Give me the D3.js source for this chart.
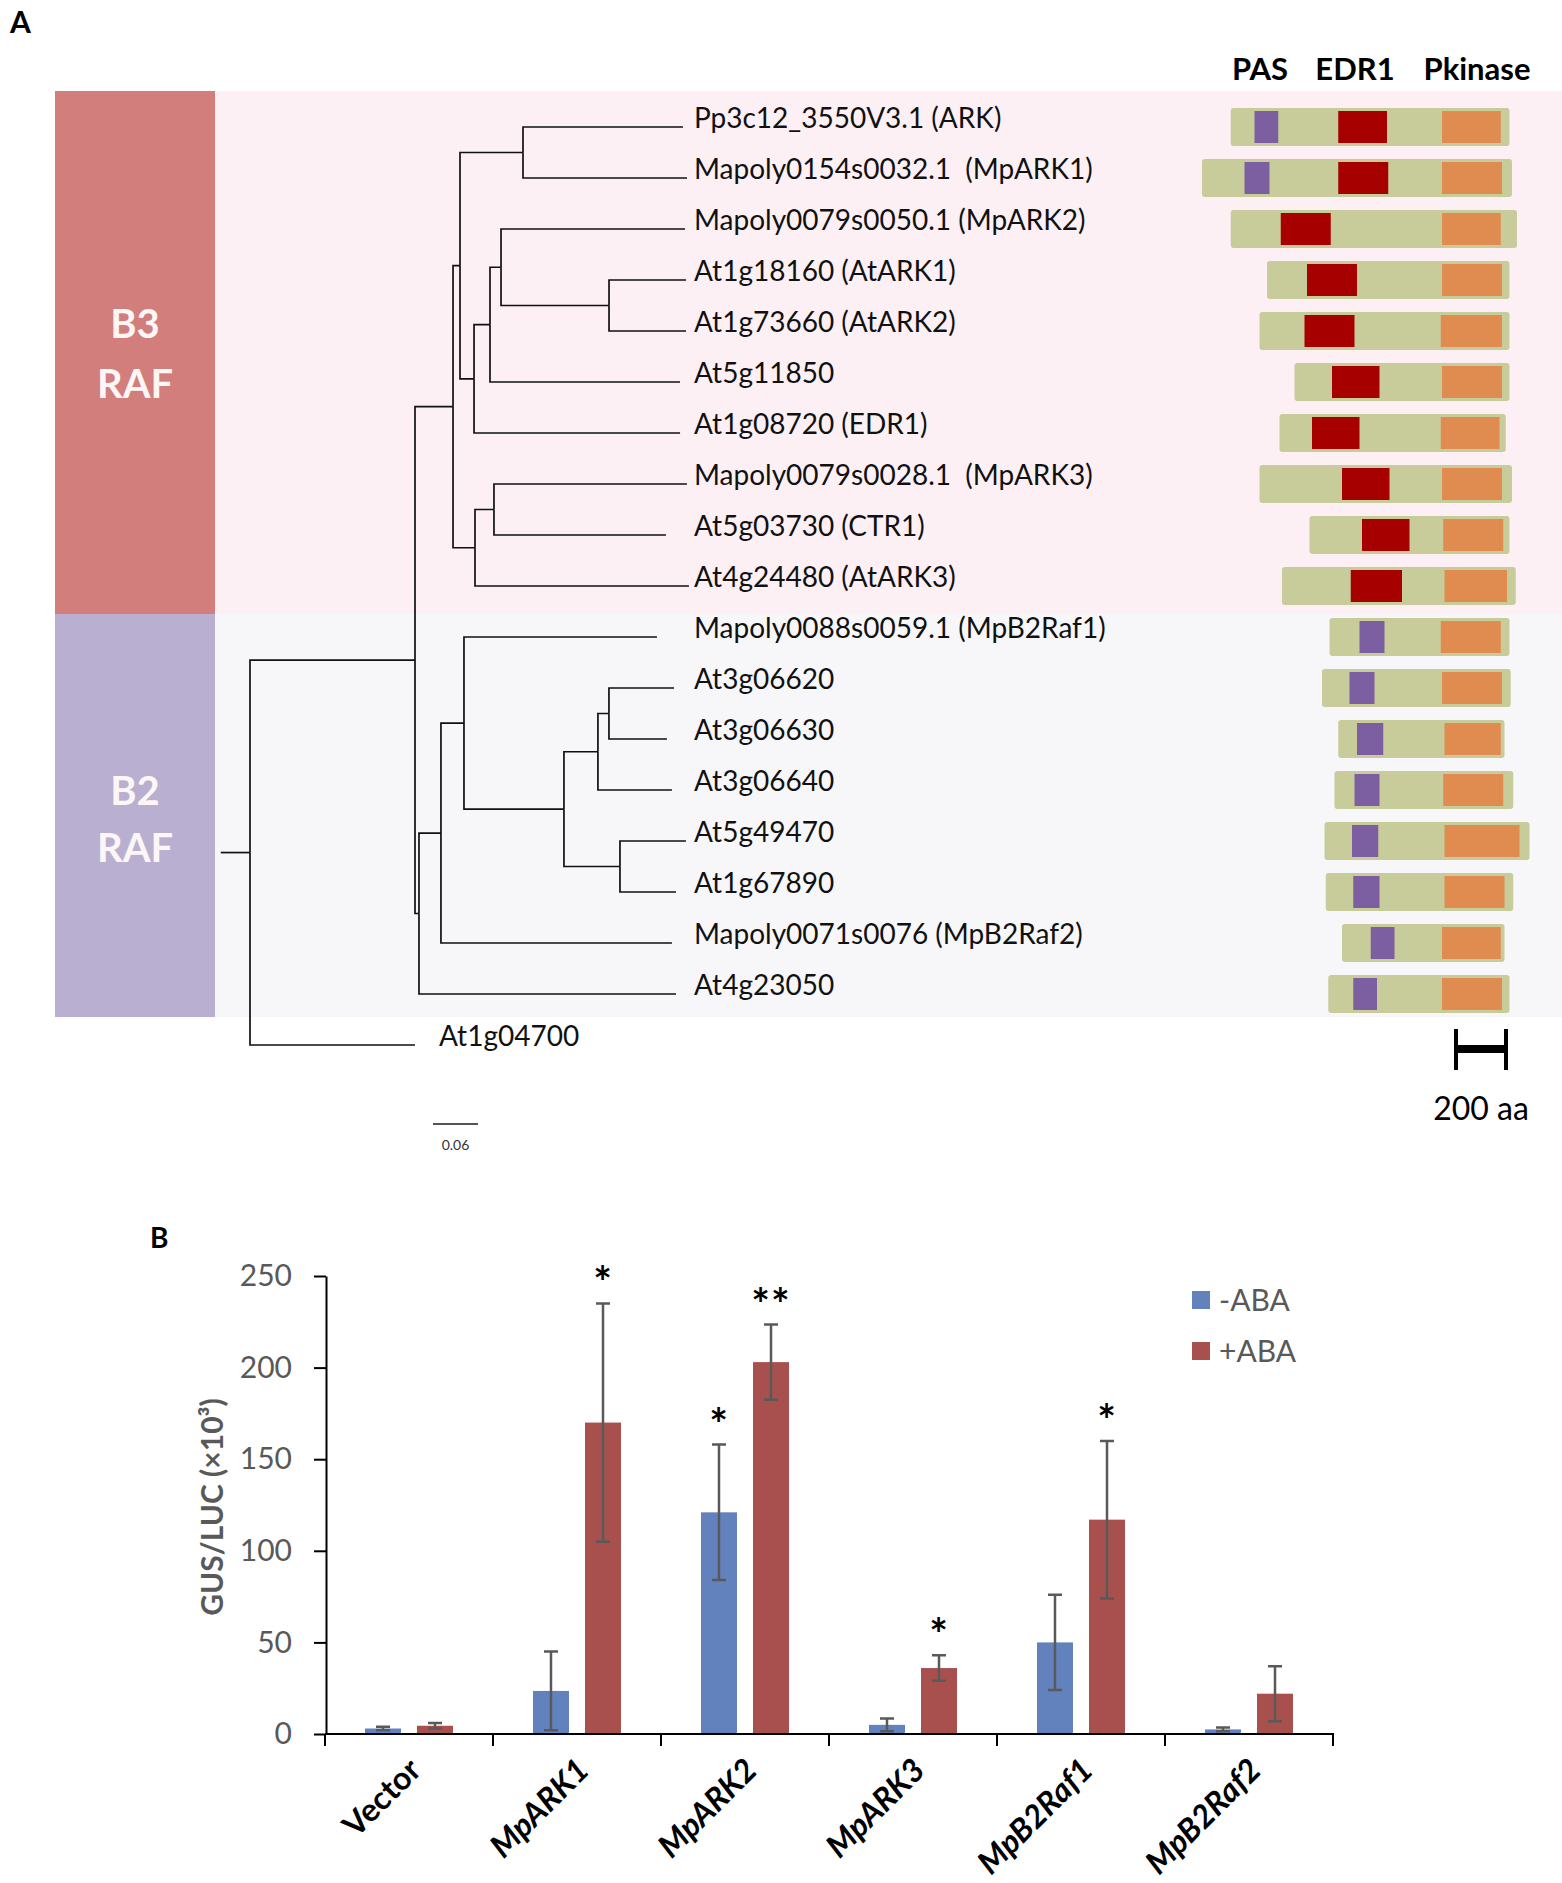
<!DOCTYPE html>
<html>
  <head>
    <meta charset="utf-8">
    <title>RAF phylogeny and GUS/LUC assay</title>
    <style>
      body {
        margin: 0px;
        overflow: hidden;
        background: #fff;
      }
      text {
        font-family: Lato, "Open Sans", sans-serif;
      }
    </style>
    <script src="https://d3js.org/d3.v7.min.js"></script>
  </head>
  <body>

    <svg width="1562" height="1883"></svg>

    <script>
      // ---------- panel A data ----------
      // tree in newick form, branch lengths in substitutions/site
      const treeNewick =
        "(((((Pp3c12_3550V3.1:0.2133,Mapoly0154s0032.1:0.2187):0.084," +
        "(((Mapoly0079s0050.1:0.2453,(At1g18160:0.1027,At1g73660:0.1027):0.144):0.0147," +
        "At5g11850:0.2533):0.0213,At1g08720:0.2747):0.0187):0.0093," +
        "((Mapoly0079s0028.1:0.2573,At5g03730:0.2293):0.0253,At4g24480:0.2853):0.0293):0.0507," +
        "(((Mapoly0088s0059.1:0.2573,(((At3g06620:0.0867,At3g06630:0.0773):0.0147," +
        "At3g06640:0.0987):0.0453,(At5g49470:0.088,At1g67890:0.0747):0.0747):0.1333):0.0307," +
        "Mapoly0071s0076:0.308):0.0293,At4g23050:0.3427):0.0053):0.22,At1g04700:0.22):0.039;";

      const leafLabels = [
        "Pp3c12_3550V3.1 (ARK)",
        "Mapoly0154s0032.1  (MpARK1)",
        "Mapoly0079s0050.1 (MpARK2)",
        "At1g18160 (AtARK1)",
        "At1g73660 (AtARK2)",
        "At5g11850",
        "At1g08720 (EDR1)",
        "Mapoly0079s0028.1  (MpARK3)",
        "At5g03730 (CTR1)",
        "At4g24480 (AtARK3)",
        "Mapoly0088s0059.1 (MpB2Raf1)",
        "At3g06620",
        "At3g06630",
        "At3g06640",
        "At5g49470",
        "At1g67890",
        "Mapoly0071s0076 (MpB2Raf2)",
        "At4g23050",
        "At1g04700"
      ];

      // domain architecture, aa positions relative to kinase domain start
      const proteinSpan = [
        [-845, 270], [-960, 280], [-845, 300], [-700, 270], [-730, 270], [-590, 270],
        [-650, 255], [-730, 280], [-530, 270], [-640, 295], [-450, 270], [-480, 275],
        [-415, 250], [-430, 285], [-470, 350], [-465, 285], [-400, 250], [-455, 270]
      ];
      const pasDomain = [
        [-750, -655], [-790, -690], null, null, null, null, null, null, null, null,
        [-330, -230], [-370, -270], [-340, -235], [-350, -250], [-360, -255], [-355, -250],
        [-285, -190], [-355, -260]
      ];
      const edrDomain = [
        [-415, -220], [-415, -215], [-645, -445], [-540, -340], [-550, -350], [-440, -250],
        [-520, -330], [-400, -210], [-320, -130], [-365, -160],
        null, null, null, null, null, null, null, null
      ];
      const kinaseDomain = [
        [0, 235], [0, 240], [0, 235], [0, 240], [-5, 240], [0, 240], [-5, 230], [0, 240],
        [5, 245], [10, 260], [-5, 235], [0, 240], [10, 235], [5, 245], [10, 310], [10, 250],
        [0, 235], [0, 240]
      ];
      const domainHeaders = ["PAS", "EDR1", "Pkinase"];
      const domainHeaderX = [1260, 1355, 1477];
      const groupNames = [["B3", "RAF"], ["B2", "RAF"]];

      // ---------- panel B data ----------
      const categories = ["Vector", "MpARK1", "MpARK2", "MpARK3", "MpB2Raf1", "MpB2Raf2"];
      const seriesNames = ["-ABA", "+ABA"];
      const minusABA = [3, 23.5, 121, 5, 50, 2.5];
      const minusErr = [1, 21.5, 37, 3.5, 26, 1];
      const plusABA = [4.5, 170, 203, 36, 117, 22];
      const plusErr = [1.5, 65, 20.5, 7, 43, 15];
      const minusSig = ["", "", "*", "", "", ""];
      const plusSig = ["", "*", "**", "*", "*", ""];
      const yTicks = [0, 50, 100, 150, 200, 250];

      const svg = d3.select('svg');
      svg.append('rect').attr('width', 1562).attr('height', 1883).attr('fill', '#fff');

      // ---------- panel A ----------
      svg.append('text').attr('x', 10).attr('y', 33)
        .attr('font-size', 30).attr('font-weight', 'bold').text('A');

      // group backgrounds
      const groupBands = [[91, 614], [614, 1017]];
      const groupCol = ['#d17e7c', '#b9b0d1'];
      const groupBg = ['#fcf0f5', '#f7f7f9'];
      groupBands.forEach((b, i) => {
        svg.append('rect').attr('x', 215).attr('y', b[0]).attr('width', 1562 - 215)
          .attr('height', b[1] - b[0]).attr('fill', groupBg[i]);
        svg.append('rect').attr('x', 55).attr('y', b[0]).attr('width', 160)
          .attr('height', b[1] - b[0]).attr('fill', groupCol[i]);
      });
      const groupTextY = [[338, 398], [805, 862]];
      groupNames.forEach((g, i) => {
        g.forEach((t, j) => {
          svg.append('text').attr('x', 135).attr('y', groupTextY[i][j])
            .attr('text-anchor', 'middle').attr('font-size', 40).attr('font-weight', 'bold')
            .attr('fill', '#fdf6f6').text(t);
        });
      });

      // newick parser
      function parseNewick(s) {
        let i = 0;
        function node() {
          const n = {};
          if (s[i] === '(') {
            n.children = [];
            i++;
            n.children.push(node());
            while (s[i] === ',') { i++; n.children.push(node()); }
            i++;
          }
          let name = '';
          while (i < s.length && !':,);'.includes(s[i])) name += s[i++];
          n.name = name;
          n.length = 0;
          if (s[i] === ':') {
            i++;
            let len = '';
            while (i < s.length && !',);'.includes(s[i])) len += s[i++];
            n.length = +len;
          }
          return n;
        }
        return node();
      }

      const root = d3.hierarchy(parseNewick(treeNewick));
      const leaves = root.leaves();
      const treeX = d3.scaleLinear().domain([0, 1]).range([250, 1000]);
      const rowY = d3.scaleLinear().domain([0, leaves.length - 1]).range([127, 1045]);

      root.eachBefore(d => { d.dist = d.parent ? d.parent.dist + d.data.length : 0; });
      leaves.forEach((d, i) => { d.y = rowY(i); d.idx = i; });
      root.eachAfter(d => {
        if (d.children) d.y = (d.children[0].y + d.children[d.children.length - 1].y) / 2;
      });

      const tree = svg.append('g').attr('fill', 'none').attr('stroke', '#111').attr('stroke-width', 1.7);
      tree.selectAll('path.link').data(root.links())
        .enter().append('path')
          .attr('class', 'link')
          .attr('d', l => `M${treeX(l.source.dist)},${l.source.y}V${l.target.y}H${treeX(l.target.dist)}`);
      tree.append('path')
        .attr('d', `M${treeX(-root.data.length)},${root.y}H${treeX(0)}`);

      svg.selectAll('text.leaf').data(leaves)
        .enter().append('text')
          .attr('class', 'leaf')
          .attr('x', d => d.idx === leaves.length - 1 ? treeX(d.dist) + 24 : 694)
          .attr('y', d => d.y + 1)
          .attr('font-size', 28)
          .attr('fill', '#111')
          .style('white-space', 'pre')
          .text(d => leafLabels[d.idx]);

      // tree scale bar
      svg.append('line').attr('x1', 433).attr('x2', 433 + treeX(0.06) - treeX(0))
        .attr('y1', 1124).attr('y2', 1124).attr('stroke', '#555').attr('stroke-width', 2);
      svg.append('text').attr('x', 433 + (treeX(0.06) - treeX(0)) / 2).attr('y', 1150)
        .attr('text-anchor', 'middle').attr('font-size', 14).attr('fill', '#333').text('0.06');

      // domain architecture
      const domX = d3.scaleLinear().domain([0, 200]).range([1442, 1492]);
      domainHeaders.forEach((h, i) => {
        svg.append('text').attr('x', domainHeaderX[i]).attr('y', 80)
          .attr('text-anchor', 'middle').attr('font-size', 31).attr('font-weight', 'bold').text(h);
      });
      const rows = svg.append('g').selectAll('g').data(proteinSpan)
        .enter().append('g');
      rows.append('rect')
        .attr('x', d => domX(d[0])).attr('width', d => domX(d[1]) - domX(d[0]))
        .attr('y', (d, i) => rowY(i) - 19).attr('height', 38)
        .attr('rx', 3).attr('fill', '#c8cb9a');
      const domainSets = [[pasDomain, '#7c5fa0'], [edrDomain, '#a60000'], [kinaseDomain, '#e08c50']];
      domainSets.forEach(([arr, col]) => {
        svg.append('g').selectAll('rect')
          .data(arr.map((d, i) => ({ d, i })).filter(o => o.d))
          .enter().append('rect')
            .attr('x', o => domX(o.d[0])).attr('width', o => domX(o.d[1]) - domX(o.d[0]))
            .attr('y', o => rowY(o.i) - 16).attr('height', 32)
            .attr('fill', col);
      });
      // 200 aa scale bar
      const sbX = 1456, sbW = domX(200) - domX(0);
      const sb = svg.append('g').attr('stroke', '#000');
      sb.append('line').attr('x1', sbX).attr('x2', sbX + sbW).attr('y1', 1049).attr('y2', 1049).attr('stroke-width', 8);
      sb.append('line').attr('x1', sbX).attr('x2', sbX).attr('y1', 1029).attr('y2', 1070).attr('stroke-width', 4);
      sb.append('line').attr('x1', sbX + sbW).attr('x2', sbX + sbW).attr('y1', 1029).attr('y2', 1070).attr('stroke-width', 4);
      svg.append('text').attr('x', sbX + sbW / 2).attr('y', 1120).attr('text-anchor', 'middle')
        .attr('font-size', 32).text('200 aa');

      // ---------- panel B ----------
      svg.append('text').attr('x', 150).attr('y', 1248)
        .attr('font-size', 28).attr('font-weight', 'bold').text('B');

      const x = d3.scaleBand().domain(categories).range([325, 1333]);
      const xs = d3.scaleBand().domain(seriesNames).range([40, 128]).paddingInner(0.3077);
      const y = d3.scaleLinear().domain([0, 250]).range([1734, 1276]);
      const colors = { '-ABA': '#6282be', '+ABA': '#a8504e' };

      const bars = categories.flatMap((c, i) => [
        { c, s: '-ABA', v: minusABA[i], e: minusErr[i], sig: minusSig[i] },
        { c, s: '+ABA', v: plusABA[i], e: plusErr[i], sig: plusSig[i] }
      ]);
      const bx = d => x(d.c) + xs(d.s);

      svg.append('g').selectAll('rect').data(bars)
        .enter().append('rect')
          .attr('x', bx).attr('width', xs.bandwidth())
          .attr('y', d => y(d.v)).attr('height', d => y(0) - y(d.v))
          .attr('fill', d => colors[d.s]);

      const err = svg.append('g').attr('stroke', '#595959').attr('stroke-width', 2.5);
      err.selectAll('path').data(bars)
        .enter().append('path')
          .attr('fill', 'none')
          .attr('d', d => {
            const cx = bx(d) + xs.bandwidth() / 2;
            const t = y(d.v + d.e), b = y(d.v - d.e);
            return `M${cx - 7},${t}H${cx + 7}M${cx},${t}V${b}M${cx - 7},${b}H${cx + 7}`;
          });

      svg.append('g').selectAll('text').data(bars.filter(d => d.sig))
        .enter().append('text')
          .attr('x', d => bx(d) + xs.bandwidth() / 2)
          .attr('y', d => y(d.v + d.e) - 5)
          .attr('text-anchor', 'middle').attr('font-size', 44).attr('font-weight', 'bold')
          .attr('letter-spacing', 1)
          .text(d => d.sig);

      // y axis
      const yAxis = svg.append('g').attr('transform', 'translate(326,0)')
        .call(d3.axisLeft(y).tickValues(yTicks).tickSize(12).tickSizeOuter(0).tickPadding(22));
      yAxis.attr('font-family', null).attr('font-size', null);
      yAxis.select('.domain').attr('stroke', '#000').attr('stroke-width', 2);
      yAxis.selectAll('.tick line').attr('stroke', '#000').attr('stroke-width', 2);
      yAxis.selectAll('.tick text').attr('font-size', 30).attr('fill', '#595959');

      svg.append('text').attr('transform', 'translate(223,1507) rotate(-90)')
        .attr('text-anchor', 'middle').attr('font-size', 30).attr('font-weight', 'bold')
        .attr('fill', '#595959').text('GUS/LUC (×10³)');

      // x axis
      svg.append('line').attr('x1', 325).attr('x2', 1334).attr('y1', y(0)).attr('y2', y(0))
        .attr('stroke', '#000').attr('stroke-width', 2);
      const bounds = categories.map(c => x(c)).concat([x.range()[1]]);
      svg.append('g').selectAll('line').data(bounds)
        .enter().append('line')
          .attr('x1', d => d).attr('x2', d => d)
          .attr('y1', y(0)).attr('y2', y(0) + 12)
          .attr('stroke', '#000').attr('stroke-width', 2);
      svg.append('g').selectAll('text').data(categories)
        .enter().append('text')
          .attr('transform', c => `translate(${x(c) + x.bandwidth() / 2 + 14},1772) rotate(-45)`)
          .attr('text-anchor', 'end').attr('font-size', 32).attr('font-weight', 'bold')
          .attr('font-style', c => c === 'Vector' ? 'normal' : 'italic')
          .text(c => c);

      // legend
      const leg = svg.append('g').selectAll('g').data(seriesNames)
        .enter().append('g')
          .attr('transform', (d, i) => `translate(1192,${1291 + i * 51})`);
      leg.append('rect').attr('width', 18).attr('height', 18).attr('fill', d => colors[d]);
      leg.append('text').attr('x', 27).attr('y', 9).attr('dy', '0.35em')
        .attr('font-size', 30).attr('fill', '#595959').text(d => d);
    </script>
  </body>
</html>
